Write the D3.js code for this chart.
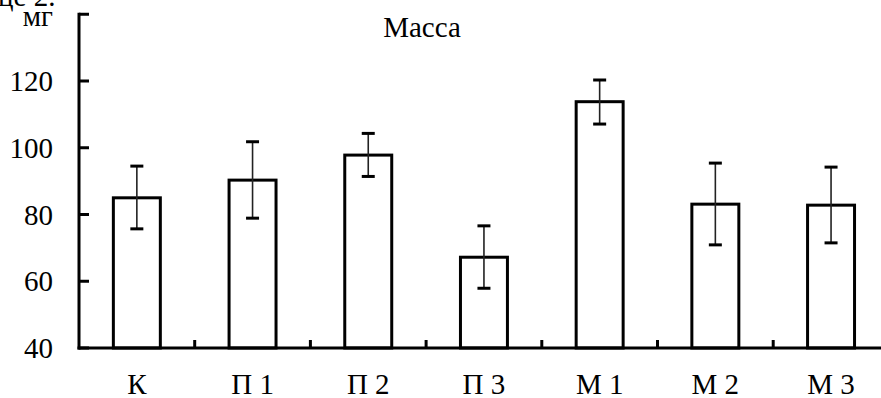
<!DOCTYPE html>
<html><head><meta charset="utf-8">
<script src="https://cdn.jsdelivr.net/npm/d3@7/dist/d3.min.js"></script>
<style>
html,body{margin:0;padding:0;background:#fff;}
svg{display:block;}
</style></head>
<body>
<svg id="chart" width="881" height="398"></svg>
<script>
const categories = ["К", "П 1", "П 2", "П 3", "М 1", "М 2", "М 3"];
const values     = [85.0, 90.3, 97.8, 67.2, 113.8, 83.1, 82.8];
const errUpper   = [94.5, 101.8, 104.3, 76.6, 120.3, 95.4, 94.2];
const errLower   = [75.7, 78.9, 91.4, 57.9, 107.1, 70.9, 71.5];
const yTicks     = [40, 60, 80, 100, 120, 140];
const yTickLabels = ["40", "60", "80", "100", "120", "мг"];
const title = "Масса";

const FONT = "Times New Roman";
const svg = d3.select("#chart");
const x0 = 79, yBottom = 348, yTop = 14.25, step = 115.7;

const x = d3.scaleBand().domain(categories)
  .range([x0, x0 + step * categories.length])
  .paddingInner(0.594).paddingOuter(0.297);
const y = d3.scaleLinear().domain([40, 140]).range([yBottom, yTop]);

// caption fragment at top-left
svg.append("text").attr("x", -2).attr("y", 6)
  .style("font-family", FONT)
  .attr("font-size", 29).attr("fill", "#000").text("це 2.");

// title
svg.append("text").attr("x", 422).attr("y", 37).attr("text-anchor", "middle")
  .style("font-family", FONT)
  .attr("font-size", 29).attr("fill", "#000").text(title);

// bars
svg.append("g").selectAll("rect").data(categories).join("rect")
  .attr("x", d => x(d))
  .attr("y", (d, i) => y(values[i]))
  .attr("width", x.bandwidth())
  .attr("height", (d, i) => y(40) - y(values[i]))
  .attr("fill", "#fff").attr("stroke", "#000").attr("stroke-width", 3);

// error bars
const eb = svg.append("g");
categories.forEach((c, i) => {
  const cx = x(c) + x.bandwidth() / 2;
  eb.append("line").attr("x1", cx).attr("x2", cx)
    .attr("y1", y(errUpper[i])).attr("y2", y(errLower[i]))
    .attr("stroke", "#222").attr("stroke-width", 1.6);
  [errUpper[i], errLower[i]].forEach(v => {
    eb.append("line").attr("x1", cx - 6.5).attr("x2", cx + 6.5)
      .attr("y1", y(v)).attr("y2", y(v))
      .attr("stroke", "#000").attr("stroke-width", 3);
  });
});

// x axis
const xa = svg.append("g");
xa.append("line").attr("x1", x0 - 1.5).attr("x2", 881)
  .attr("y1", yBottom).attr("y2", yBottom)
  .attr("stroke", "#000").attr("stroke-width", 3);
categories.forEach((c, i) => {
  if (i === 0) return;
  const bx = x(c) - x.step() * x.paddingInner() / 2;
  xa.append("line").attr("x1", bx).attr("x2", bx)
    .attr("y1", yBottom).attr("y2", yBottom - 8)
    .attr("stroke", "#000").attr("stroke-width", 3);
});
xa.selectAll("text.xl").data(categories).join("text")
  .attr("class", "xl")
  .attr("x", d => x(d) + x.bandwidth() / 2)
  .attr("y", 394)
  .attr("text-anchor", "middle")
  .style("font-family", FONT)
  .attr("font-size", 29).attr("fill", "#000")
  .text(d => d);

// y axis
const ya = svg.append("g");
ya.append("line").attr("x1", x0).attr("x2", x0)
  .attr("y1", yTop - 1.5).attr("y2", yBottom + 1.5)
  .attr("stroke", "#000").attr("stroke-width", 3);
yTicks.forEach((t, i) => {
  ya.append("line").attr("x1", x0).attr("x2", x0 + 10)
    .attr("y1", y(t)).attr("y2", y(t))
    .attr("stroke", "#000").attr("stroke-width", 3);
  const lbl = yTickLabels[i];
  ya.append("text")
    .attr("x", 53).attr("y", lbl === "мг" ? 26 : y(t) + 10)
    .attr("text-anchor", "end")
    .style("font-family", FONT)
    .attr("font-size", 29).attr("fill", "#000")
    .text(lbl);
});
</script>
</body></html>
